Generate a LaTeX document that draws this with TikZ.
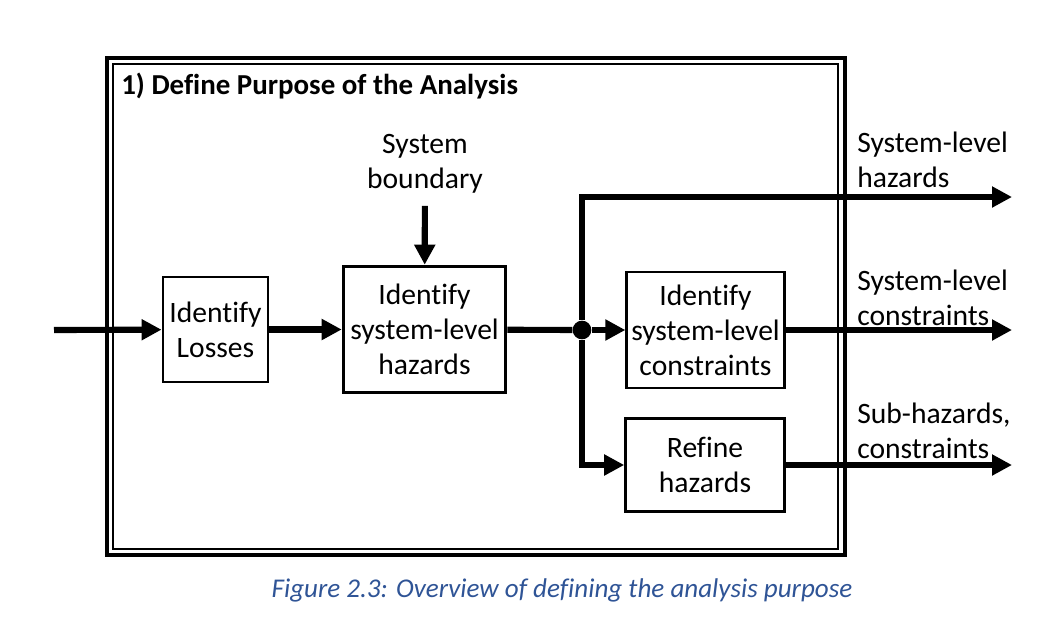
\documentclass[tikz,border=0pt]{standalone}
\usepackage{fontspec}
\setmainfont[Ligatures={NoCommon}]{Carlito}
\usetikzlibrary{arrows.meta}
\definecolor{capblue}{RGB}{47,84,150}
\tikzstyle{process} = [rectangle, draw=black, line width=2.2pt, text centered, align=center, inner sep=2pt]
\tikzstyle{outtext} = [align=left, anchor=west, inner sep=0pt]
\tikzstyle{arrow} = [line width=4.6pt, -{Triangle[length=15pt,width=15pt]}]
\tikzstyle{wire} = [line width=4.6pt]
\tikzstyle{dot} = [circle, fill=black, inner sep=0pt, minimum size=14pt]

\begin{document}
\begin{tikzpicture}[x=0.75pt,y=-0.75pt, font=\fontsize{22.2pt}{26.3pt}\selectfont]
\useasboundingbox (0,0) rectangle (1062,631);
%%%%% FRAME
\draw [line width=3.4pt] (107,58) rectangle (845,555);
\draw [line width=1.9pt] (113,64) rectangle (838,549);
\node (title) [anchor=west, inner sep=0pt, font=\fontsize{21.7pt}{26.3pt}\selectfont\bfseries] at (121,86) {1) Define Purpose of the Analysis};

%%%%% ADDING MAIN BLOCKS
\node (loss) [process, minimum width=78.75pt, minimum height=78.75pt] at (215.5,329.5) {Identify\\Losses};
\node (haz) [process, minimum width=122pt, minimum height=95pt] at (424.5,329.5) {Identify\\system-level\\hazards};
\node (con) [process, minimum width=118pt, minimum height=87pt] at (705.5,330) {Identify\\system-level\\constraints};
\node (ref) [process, minimum width=119pt, minimum height=70pt] at (705,465) {Refine\\hazards};
\node (bnd) [align=center, inner sep=0pt] at (425,164) {System\\boundary};
\node (jn) [dot] at (582,330) {};

% free ends
\coordinate (in) at (54,330);
\coordinate (out1) at (1012,197);
\coordinate (out2) at (1012,330);
\coordinate (out3) at (1012,465);

%%%%% OUTPUT TEXTS
\node (t1) [outtext] at (857,160) {System-level\\hazards};
\node (t2) [outtext] at (857,298) {System-level\\constraints};
\node (t3) [outtext] at (857,431) {Sub-hazards,\\constraints};

%%%%% ADDING ARROWS
\draw [arrow] (in) -- (loss);
\draw [arrow] (loss) -- (haz);
\draw [arrow, shorten <=9pt] (bnd) -- (haz);
\draw [wire] (haz) -- (jn);
\draw [arrow] (jn) -- (con);
\draw [arrow] (jn) |- (out1);
\draw [arrow] (jn) |- (ref);
\draw [arrow] (con) -- (out2);
\draw [arrow] (ref) -- (out3);

\node (cap) [text=capblue, font=\fontsize{20.3pt}{24pt}\selectfont\itshape] at (562,590) {Figure 2.3: Overview of defining the analysis purpose};
\end{tikzpicture}
\end{document}
